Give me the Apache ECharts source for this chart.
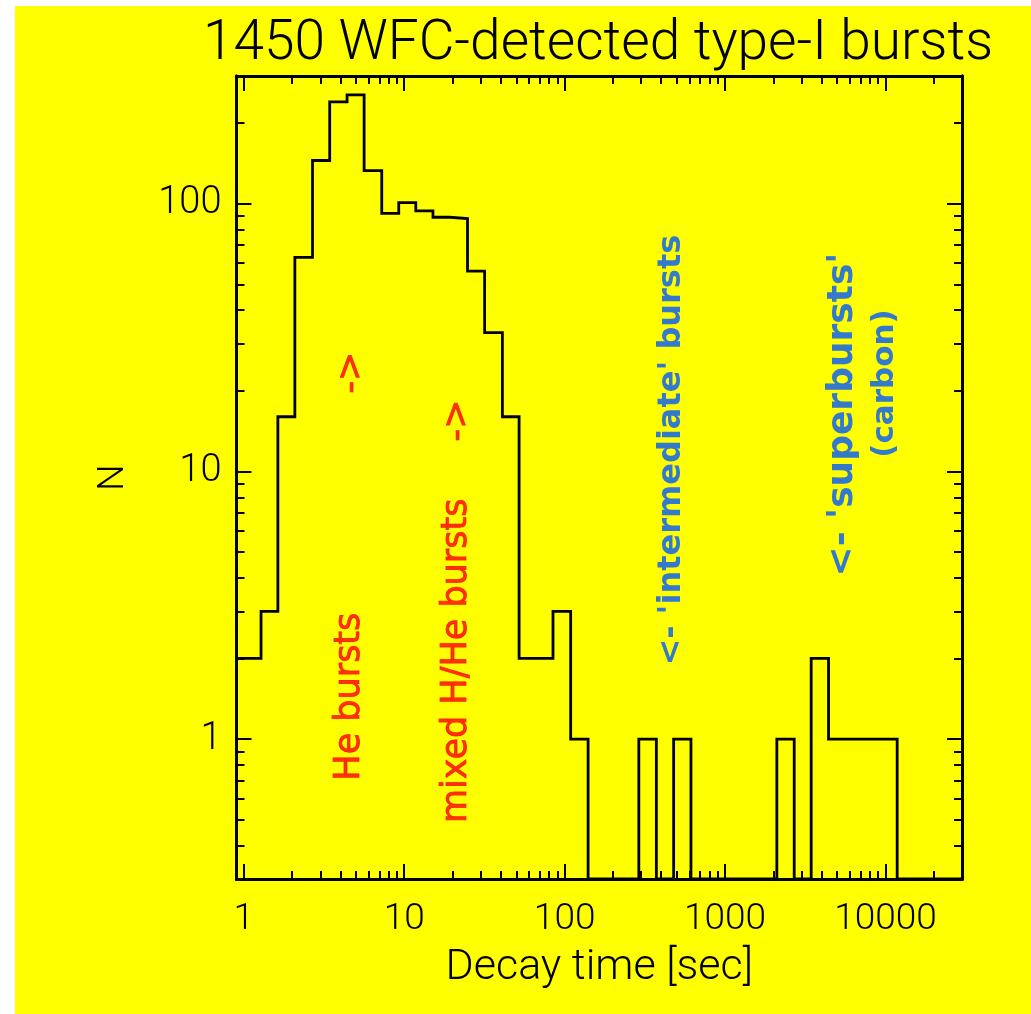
<!DOCTYPE html>
<html>
<head>
<meta charset="utf-8">
<script src="https://cdn.jsdelivr.net/npm/echarts@6/dist/echarts.min.js"></script>
<style>
  html, body { margin: 0; padding: 0; background: #ffffff; width: 1031px; height: 1014px; overflow: hidden; }
  #chart { position: absolute; left: 15px; top: 6px; width: 1016px; height: 1008px; }
</style>
</head>
<body>
<div id="chart"></div>
<script>
// ---- Data ----
// Histogram bin edges (decay time, seconds) and counts per bin
const binEdges = [0.78, 1.0, 1.28, 1.63, 2.08, 2.68, 3.43, 4.40, 5.62, 7.24, 9.24, 11.8, 15.1, 19.2, 24.8, 31.7, 40.9, 52.0, 66.5, 84.6, 109, 140, 178, 228, 290, 373, 478, 613, 784, 1002, 1283, 1644, 2103, 2698, 3443, 4416, 5650, 7230, 9250, 11830, 30000];
const counts   = [2, 2, 3, 16, 63, 145, 240, 255, 133, 92, 101, 94, 89, 88, 56, 33, 16, 2, 2, 3, 1, 0, 0, 0, 1, 0, 1, 0, 0, 0, 0, 0, 1, 0, 2, 1, 1, 1, 1, 0];

// Axis ticks / labels
const xMajorTicks = [1, 10, 100, 1000, 10000];
const xMinorTicks = [2, 3, 4, 5, 6, 7, 8, 9, 20, 30, 40, 50, 60, 70, 80, 90, 200, 300, 400, 500, 600, 700, 800, 900, 2000, 3000, 4000, 5000, 6000, 7000, 8000, 9000, 20000];
const yMajorTicks = [1, 10, 100];
const yMinorTicks = [0.4, 0.5, 0.6, 0.7, 0.8, 0.9, 2, 3, 4, 5, 6, 7, 8, 9, 20, 30, 40, 50, 60, 70, 80, 90, 200];

const titleText = '1450 WFC-detected type-I bursts';
const xName = 'Decay time [sec]';
const yName = 'N';

// Annotations (text anchored at data coordinates)
const annoTexts  = ['He bursts', '->', 'mixed H/He bursts', '->', "<- 'intermediate' bursts", "<- 'superbursts'", '(carbon)'];
const annoX      = [4.6, 4.7, 21.2, 21.6, 464, 5400, 9860];
const annoY      = [1.44, 23.4, 1.96, 15.5, 12.0, 16.3, 21.3];
const annoGroup  = ['red', 'red', 'red', 'red', 'blue', 'blue2', 'blue3'];

// ---- Build chart ----
const X_MIN = 0.9, X_MAX = 30000, Y_MIN = 0.3, Y_MAX = 300;
const AXIS_FONT = 'Roboto, "DejaVu Sans", sans-serif';
const ANNO_FONT = '"DejaVu Sans", "Noto Sans", sans-serif';

const outline = [];
for (let i = 0; i < counts.length; i++) {
  const v = counts[i] > 0 ? counts[i] : Y_MIN;
  outline.push([binEdges[i], v], [binEdges[i + 1], v]);
}

function fmt(v) { return String(Math.round(v * 1000) / 1000); }

function xAxisDef(pos, ticks, len, withLabels, withName) {
  return {
    type: 'log', logBase: 10, min: X_MIN, max: X_MAX, position: pos,
    name: withName ? xName : '', nameLocation: 'middle', nameGap: 68,
    nameTextStyle: { fontFamily: AXIS_FONT, fontWeight: 300, fontSize: 43, color: '#000' },
    axisLine: { show: true, onZero: false, lineStyle: { color: '#000', width: 3 } },
    axisTick: { show: true, inside: true, length: len, customValues: ticks, lineStyle: { color: '#000', width: 2 } },
    axisLabel: { show: withLabels, customValues: ticks, margin: 22, formatter: fmt,
                 fontFamily: AXIS_FONT, fontWeight: 300, fontSize: 37, color: '#000' },
    splitLine: { show: false }, minorTick: { show: false }, minorSplitLine: { show: false }
  };
}
function yAxisDef(pos, ticks, len, withLabels, withName) {
  return {
    type: 'log', logBase: 10, min: Y_MIN, max: Y_MAX, position: pos,
    name: withName ? yName : '', nameLocation: 'middle', nameGap: 104, nameRotate: 90,
    nameTextStyle: { fontFamily: AXIS_FONT, fontWeight: 300, fontSize: 37, color: '#000' },
    axisLine: { show: true, onZero: false, lineStyle: { color: '#000', width: 3 } },
    axisTick: { show: true, inside: true, length: len, customValues: ticks, lineStyle: { color: '#000', width: 2 } },
    axisLabel: { show: withLabels, customValues: ticks, margin: 15, formatter: fmt,
                 fontFamily: AXIS_FONT, fontWeight: 300, fontSize: 38, color: '#000' },
    splitLine: { show: false }, minorTick: { show: false }, minorSplitLine: { show: false }
  };
}

const styleMap = {
  red:   { color: '#ff0000', weight: 'normal', size: 35 },
  blue:  { color: '#0058ff', weight: 'bold',   size: 32 },
  blue2: { color: '#0058ff', weight: 'bold',   size: 36 },
  blue3: { color: '#0058ff', weight: 'bold',   size: 31 }
};
const annoData = annoTexts.map((t, i) => {
  const s = styleMap[annoGroup[i]];
  return {
    value: [annoX[i], annoY[i]],
    label: {
      show: true, formatter: t, position: 'inside', rotate: 90,
      align: 'center', verticalAlign: 'middle',
      color: s.color, fontFamily: ANNO_FONT, fontWeight: s.weight, fontSize: s.size,
      textBorderColor: s.weight === 'normal' ? s.color : 'transparent',
      textBorderWidth: s.weight === 'normal' ? 0.8 : 0
    }
  };
});

const chart = echarts.init(document.getElementById('chart'), null, { renderer: 'canvas' });
chart.setOption({
  animation: false,
  backgroundColor: '#ffff00',
  title: {
    text: titleText, left: 583, top: 12, textAlign: 'center', padding: 0,
    textStyle: { fontFamily: AXIS_FONT, fontWeight: 300, fontSize: 55, color: '#000' }
  },
  grid: { left: 221.5, top: 70, width: 725.5, height: 803, containLabel: false },
  xAxis: [
    xAxisDef('bottom', xMajorTicks, 15, true, true),
    xAxisDef('bottom', xMinorTicks, 8, false, false),
    xAxisDef('top', xMajorTicks, 15, false, false),
    xAxisDef('top', xMinorTicks, 8, false, false)
  ],
  yAxis: [
    yAxisDef('left', yMajorTicks, 15, true, true),
    yAxisDef('left', yMinorTicks, 8, false, false),
    yAxisDef('right', yMajorTicks, 15, false, false),
    yAxisDef('right', yMinorTicks, 8, false, false)
  ],
  series: [
    {
      type: 'line', xAxisIndex: 0, yAxisIndex: 0, data: outline,
      symbol: 'none', showSymbol: false, clip: true, silent: true,
      lineStyle: { color: '#000', width: 2.8, join: 'miter', cap: 'square' }, z: 5
    },
    {
      type: 'scatter', xAxisIndex: 0, yAxisIndex: 0, data: annoData,
      symbolSize: 0, silent: true, z: 6
    }
  ]
});
</script>
</body>
</html>
